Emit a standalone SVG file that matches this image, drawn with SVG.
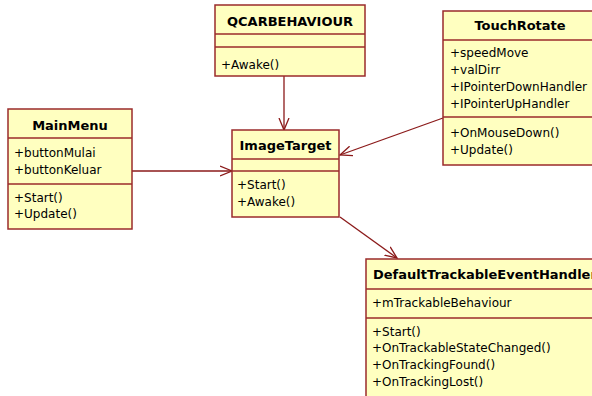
<svg xmlns="http://www.w3.org/2000/svg" width="592" height="396" viewBox="0 0 592 396">
<style>
.box{fill:#FFFFC0;stroke:#9B2B2B;stroke-width:1.5}
.div{stroke:#9B2B2B;stroke-width:1.5}
.t{font-family:"DejaVu Sans",Verdana,sans-serif;font-size:13px;font-weight:bold;fill:#000;text-anchor:middle}
.m{font-family:"DejaVu Sans",Verdana,sans-serif;font-size:12px;fill:#000}
.c{stroke:#8B1A1A;stroke-width:1.3;fill:none;marker-end:url(#arr)}
</style>
<defs>
<marker id="arr" markerUnits="userSpaceOnUse" markerWidth="14" markerHeight="12" refX="12" refY="6" orient="auto">
<path d="M0,1 L12,6 L0,11" fill="none" stroke="#8B1A1A" stroke-width="1.3"/>
</marker>
</defs>
<rect width="592" height="396" fill="#fff"/>
<g id="connectors">
<line class="c" x1="284" y1="76" x2="284" y2="130"/>
<line class="c" x1="132" y1="171" x2="232" y2="171"/>
<line class="c" x1="443" y1="118" x2="340" y2="155"/>
<line class="c" x1="340" y1="217" x2="397" y2="258"/>
</g>
<g id="QCARBEHAVIOUR">
<rect class="box" x="215" y="5" width="150" height="71"/>
<line class="div" x1="215" y1="34" x2="365" y2="34"/>
<line class="div" x1="215" y1="47" x2="365" y2="47"/>
<text class="t" x="290" y="26">QCARBEHAVIOUR</text>
<text class="m" x="221" y="69">+Awake()</text>
</g>
<g id="TouchRotate">
<rect class="box" x="443" y="11" width="170" height="154"/>
<line class="div" x1="443" y1="40" x2="613" y2="40"/>
<line class="div" x1="443" y1="117" x2="613" y2="117"/>
<text class="t" x="520" y="30">TouchRotate</text>
<text class="m" x="450" y="57">+speedMove</text>
<text class="m" x="450" y="74">+valDirr</text>
<text class="m" x="450" y="91">+IPointerDownHandler</text>
<text class="m" x="450" y="108">+IPointerUpHandler</text>
<text class="m" x="450" y="137">+OnMouseDown()</text>
<text class="m" x="450" y="154">+Update()</text>
</g>
<g id="MainMenu">
<rect class="box" x="8" y="109" width="124" height="120"/>
<line class="div" x1="8" y1="138" x2="132" y2="138"/>
<line class="div" x1="8" y1="184" x2="132" y2="184"/>
<text class="t" x="70" y="130">MainMenu</text>
<text class="m" x="14" y="157">+buttonMulai</text>
<text class="m" x="14" y="174">+buttonKeluar</text>
<text class="m" x="14" y="202">+Start()</text>
<text class="m" x="14" y="218">+Update()</text>
</g>
<g id="ImageTarget">
<rect class="box" x="232" y="130" width="107" height="87"/>
<line class="div" x1="232" y1="159" x2="339" y2="159"/>
<line class="div" x1="232" y1="171" x2="339" y2="171"/>
<text class="t" x="285.5" y="150">ImageTarget</text>
<text class="m" x="237" y="189">+Start()</text>
<text class="m" x="237" y="206">+Awake()</text>
</g>
<g id="DefaultTrackableEventHandler">
<rect class="box" x="366" y="259" width="240" height="150"/>
<line class="div" x1="366" y1="289" x2="606" y2="289"/>
<line class="div" x1="366" y1="318" x2="606" y2="318"/>
<text class="t" x="373" y="279" style="text-anchor:start">DefaultTrackableEventHandler</text>
<text class="m" x="372" y="307">+mTrackableBehaviour</text>
<text class="m" x="372" y="336">+Start()</text>
<text class="m" x="372" y="352">+OnTrackableStateChanged()</text>
<text class="m" x="372" y="369">+OnTrackingFound()</text>
<text class="m" x="372" y="386">+OnTrackingLost()</text>
</g>
</svg>
